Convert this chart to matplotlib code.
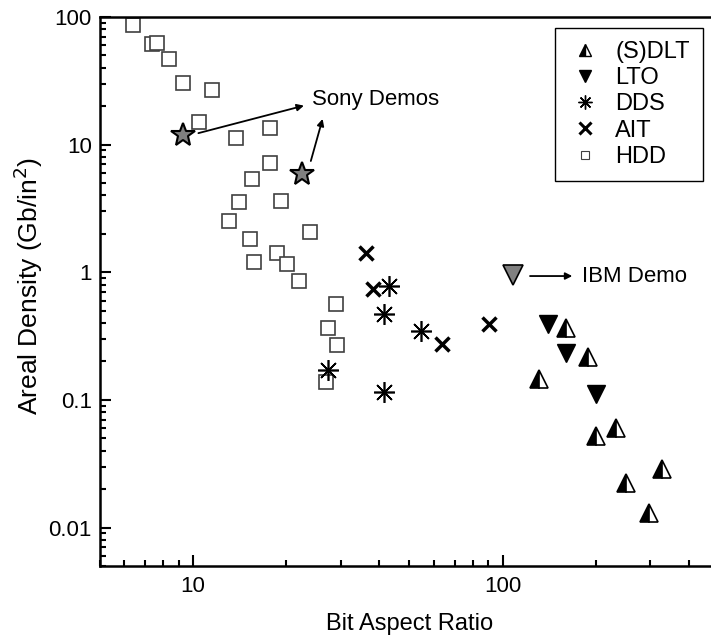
import matplotlib
matplotlib.use("Agg")
import matplotlib.pyplot as plt
from matplotlib.lines import Line2D
from matplotlib.ticker import FixedLocator, NullFormatter


plt.rcParams["font.family"] = ["Liberation Sans", "DejaVu Sans"]

# dados (razão de aspecto do bit, densidade em Gb/in2)
hdd_x = [6.41, 7.35, 7.62, 8.33, 9.27, 11.48, 10.44, 13.8, 17.66, 17.66,
         15.45, 14.06, 19.2, 13.1, 23.8, 15.3, 18.6, 15.76, 20.15, 21.98,
         28.9, 27.3, 29.1, 26.9]
hdd_y = [86.6, 61.5, 62.9, 46.6, 30.2, 26.8, 15.0, 11.2, 13.4, 7.21,
         5.4, 3.55, 3.63, 2.51, 2.08, 1.81, 1.41, 1.2, 1.17, 0.853,
         0.563, 0.365, 0.267, 0.137]

dds_x = [27.2, 43.0, 41.4, 54.3, 41.4]
dds_y = [0.173, 0.78, 0.47, 0.348, 0.116]

ait_x = [36.3, 38.2, 63.5, 90.6]
ait_y = [1.42, 0.734, 0.272, 0.391]

lto_x = [140.5, 159.7, 201]
lto_y = [0.391, 0.231, 0.111]

dlt_x = [160.3, 189, 131, 231.6, 200.7, 328, 251, 298]
dlt_y = [0.367, 0.215, 0.147, 0.0598, 0.052, 0.0287, 0.0224, 0.0129]

sony_x = [9.28, 22.5]
sony_y = [11.9, 5.88]

ibm_x = [108.2]
ibm_y = [0.95]

legenda = ["(S)DLT", "LTO", "DDS", "AIT", "HDD"]

fig = plt.figure(figsize=(7.11, 6.38), dpi=100)
ax = fig.add_axes([0.1406, 0.1129, 0.8706, 0.8605])

ax.set_xscale("log")
ax.set_yscale("log")
ax.set_xlim(5, 500)
ax.set_ylim(0.005, 100)

ax.plot(hdd_x, hdd_y, ls="none", marker="s", ms=9.5,
        mfc="white", mec="#404040", mew=1.2)
ax.plot(dds_x, dds_y, ls="none", marker=(8, 2, 0), ms=15,
        color="black", mew=1.2)
ax.plot(ait_x, ait_y, ls="none", marker="x", ms=10,
        color="black", mew=2.5)
ax.plot(lto_x, lto_y, ls="none", marker="v", ms=13,
        mfc="black", mec="black", mew=1)
ax.plot(dlt_x, dlt_y, ls="none", marker="^", ms=13, fillstyle="left",
        mfc="black", mfcalt="white", mec="black", mew=1.2)
ax.plot(sony_x, sony_y, ls="none", marker="*", ms=18,
        mfc="#808080", mec="black", mew=1.5)
ax.plot(ibm_x, ibm_y, ls="none", marker="v", ms=15,
        mfc="#808080", mec="black", mew=1.2)

# anotações
seta = dict(arrowstyle="-|>", color="black", lw=1.3, mutation_scale=10,
            shrinkA=0, shrinkB=0)
ax.annotate("", xy=(22.8, 20.2), xytext=(10.4, 12.3), arrowprops=seta)
ax.annotate("", xy=(26.2, 15.9), xytext=(24.0, 7.44), arrowprops=seta)
ax.text(24.2, 22.4, "Sony Demos", fontsize=16, va="center", ha="left")
ax.annotate("", xy=(167.9, 0.934), xytext=(122.6, 0.934), arrowprops=seta)
ax.text(180.4, 0.934, "IBM Demo", fontsize=16, va="center", ha="left")

# eixos
ax.yaxis.set_major_locator(FixedLocator([0.01, 0.1, 1, 10, 100]))
ax.set_yticklabels(["0.01", "0.1", "1", "10", "100"])
ax.xaxis.set_major_locator(FixedLocator([10, 100]))
ax.set_xticklabels(["10", "100"])
ax.yaxis.set_minor_formatter(NullFormatter())
ax.xaxis.set_minor_formatter(NullFormatter())

ax.tick_params(which="both", direction="in", top=False, right=False,
               width=1.5, labelsize=16)
ax.tick_params(axis="x", which="major", length=8, pad=7)
ax.tick_params(axis="y", which="major", length=8, pad=6)
ax.tick_params(which="minor", length=4.5)

for lado in ax.spines.values():
    lado.set_linewidth(1.8)

ax.set_xlabel("Bit Aspect Ratio", fontsize=17, labelpad=12)
ax.set_ylabel("Areal Density (Gb/in$^2$)", fontsize=19)
ax.yaxis.set_label_coords(-0.088, 0.51)

handles = [
    Line2D([], [], ls="none", marker="^", ms=9, fillstyle="left",
           mfc="black", mfcalt="white", mec="black", mew=1),
    Line2D([], [], ls="none", marker="v", ms=9, color="black"),
    Line2D([], [], ls="none", marker=(8, 2, 0), ms=10, color="black", mew=1),
    Line2D([], [], ls="none", marker="x", ms=9, color="black", mew=2.2),
    Line2D([], [], ls="none", marker="s", ms=6, mfc="white",
           mec="#404040", mew=0.8),
]
leg = ax.legend(handles, legenda, loc="upper left",
                bbox_to_anchor=(0.7806, 0.9561),
                bbox_transform=fig.transFigure,
                fontsize=17, frameon=True, fancybox=False,
                edgecolor="black", framealpha=1, borderpad=0.55,
                labelspacing=0.18, handletextpad=0.6, handlelength=1.4,
                borderaxespad=0)
leg.get_frame().set_linewidth(1.0)

plt.savefig("out.png", dpi=100)
plt.close()
